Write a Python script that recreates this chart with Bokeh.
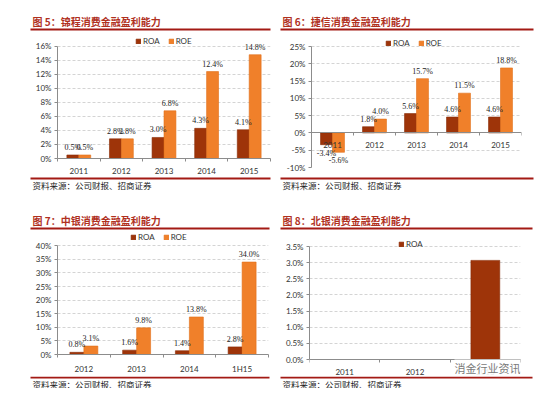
from bokeh.plotting import figure
from bokeh.models import (Range1d, FixedTicker, Legend, LegendItem, ColumnDataSource,
                          LabelSet, Label, CustomJSTickFormatter)
from bokeh.core.properties import value
from bokeh.layouts import column, row
from bokeh.embed import file_html
from bokeh.resources import INLINE

# ---------------- data ----------------
source_text = "资料来源：公司财报、招商证券"

jc_title = "图 5：锦程消费金融盈利能力"
jc_years = ["2011", "2012", "2013", "2014", "2015"]
jc_roa = [0.5, 2.8, 3.0, 4.3, 4.1]
jc_roe = [0.5, 2.8, 6.8, 12.4, 14.8]
jc_ticks = [0, 2, 4, 6, 8, 10, 12, 14, 16]

jx_title = "图 6：捷信消费金融盈利能力"
jx_years = ["2011", "2012", "2013", "2014", "2015"]
jx_roa = [-3.4, 1.8, 5.6, 4.6, 4.6]
jx_roe = [-5.6, 4.0, 15.7, 11.5, 18.8]
jx_ticks = [-10, -5, 0, 5, 10, 15, 20, 25]

zy_title = "图 7：中银消费金融盈利能力"
zy_years = ["2012", "2013", "2014", "1H15"]
zy_roa = [0.8, 1.6, 1.4, 2.8]
zy_roe = [3.1, 9.8, 13.8, 34.0]
zy_ticks = [0, 5, 10, 15, 20, 25, 30, 35, 40]

by_title = "图 8：北银消费金融盈利能力"
by_years = ["2011", "2012", "2013"]
by_roa = [None, None, 3.07]
by_ticks = [0.0, 0.5, 1.0, 1.5, 2.0, 2.5, 3.0, 3.5]

watermark = "消金行业资讯"

# ---------------- style ----------------
ROA_COLOR, ROA_EDGE = "#9e3409", "#8a2c06"
ROE_COLOR, ROE_EDGE = "#f0802a", "#e06e1a"
TITLE_COLOR = "#b0301e"
RULE_COLOR = "#a31a14"
AXIS_COLOR = "#8c8c8c"
TEXT_COLOR = "#333333"
CJK = "Noto Sans CJK SC"
LATIN = "Lato"
TOTAL_W = 546


def blank(w, h):
    f = figure(width=w, height=h, x_range=Range1d(0, w), y_range=Range1d(h, 0),
               x_axis_location=None, y_axis_location=None, output_backend="svg",
               toolbar_location=None, min_border=0, outline_line_color=None,
               frame_align=False)
    f.grid.visible = False
    return f


def strip(h, texts, rules, size, bold, color):
    """texts: list of (text, x, y); rules: list of (x0, x1, y) - strip-local pixels."""
    f = blank(TOTAL_W, h)
    for (x0, x1, y) in rules:
        f.segment(x0=[x0], y0=[y], x1=[x1], y1=[y], line_color=RULE_COLOR, line_width=2)
    f.text(x=[t[1] for t in texts], y=[t[2] for t in texts], text=[t[0] for t in texts],
           text_baseline="middle", text_align="left", text_font=value(CJK),
           text_font_size=value(size), text_font_style="bold" if bold else "normal",
           text_color=color)
    return f


def chart(cats, series, ticks, dec, col_x, col_w, top, h, fl, fr, ft, fb, yt, yb, bw,
          leg_x, leg_b, labels=True, axis_loc=None):
    """col_x/top: page position of this figure; fl/fr/ft/fb: frame edges (page px);
    yt/yb: page px of the first and last tick."""
    n = len(cats)
    xs = list(range(n))
    lo, hi = ticks[0], ticks[-1]
    per_px = (hi - lo) / (yb - yt)
    y0 = lo - (fb - yb) * per_px
    y1 = hi + (yt - ft) * per_px
    p = figure(width=col_w, height=h, x_range=Range1d(-0.5, n - 0.5),
               y_range=Range1d(y0, y1), output_backend="svg",
               toolbar_location=None, min_border_left=fl - col_x,
               min_border_right=col_x + col_w - fr, min_border_top=ft - top,
               min_border_bottom=top + h - fb, outline_line_color=None,
               frame_align=False)
    items = []
    k = len(series)
    for j, (name, vals, col, edge) in enumerate(series):
        off = (j - (k - 1) / 2) * bw
        keep = [i for i in xs if vals[i] is not None]
        src = ColumnDataSource(dict(x=[i + off for i in keep], top=[vals[i] for i in keep]))
        r = p.vbar(x="x", top="top", bottom=0, width=bw, source=src,
                   fill_color=col, line_color=edge, line_width=0.6)
        items.append(LegendItem(label=name, renderers=[r]))
        if labels:
            pos = [i for i in keep if vals[i] >= 0]
            neg = [i for i in keep if vals[i] < 0]
            for group, base, yo in ((pos, "bottom", 3), (neg, "top", -4)):
                if not group:
                    continue
                ls = ColumnDataSource(dict(x=[i + off for i in group], y=[vals[i] for i in group],
                                           t=[f"{vals[i]:.1f}%" for i in group]))
                p.add_layout(LabelSet(x="x", y="y", text="t", source=ls, y_offset=yo,
                                      text_align="center", text_baseline=base,
                                      text_font=LATIN, text_font_size="8px",
                                      text_color="#222222"))
    leg = Legend(items=items, orientation="horizontal",
                 location=(leg_x - fl, fb - leg_b),
                 margin=0, padding=0, spacing=8, label_standoff=2, glyph_width=6,
                 glyph_height=6, label_height=8, label_width=10, label_text_font_size="8px",
                 label_text_font=LATIN, label_text_color=TEXT_COLOR, border_line_color=None,
                 background_fill_alpha=0)
    p.add_layout(leg)

    xa = p.xaxis[0]
    xa.ticker = FixedTicker(ticks=xs, minor_ticks=[i - 0.5 for i in range(n + 1)])
    xa.major_label_overrides = {i: c for i, c in enumerate(cats)}
    xa.major_tick_line_color = None
    xa.minor_tick_line_color = AXIS_COLOR
    xa.minor_tick_in = 0
    xa.minor_tick_out = 3
    xa.axis_line_color = AXIS_COLOR
    xa.major_label_standoff = 3
    xa.major_label_text_font = LATIN
    xa.major_label_text_font_size = "8px"
    xa.major_label_text_color = TEXT_COLOR
    if axis_loc is not None:
        xa.fixed_location = axis_loc

    ya = p.yaxis[0]
    ya.ticker = FixedTicker(ticks=ticks)
    ya.bounds = (lo, hi)
    ya.formatter = CustomJSTickFormatter(code="return tick.toFixed(%d) + '%%';" % dec)
    ya.major_tick_in = 0
    ya.major_tick_out = 3
    ya.major_tick_line_color = AXIS_COLOR
    ya.minor_tick_line_color = None
    ya.axis_line_color = AXIS_COLOR
    ya.major_label_standoff = 3
    ya.major_label_text_font = LATIN
    ya.major_label_text_font_size = "8px"
    ya.major_label_text_color = TEXT_COLOR

    p.xgrid.visible = False
    p.ygrid.grid_line_color = "#d4d4d4"
    p.ygrid.grid_line_dash = "3 2"
    return p


WL, WR = 277, 269
XL, XR = 0, 277

# ---- top row (page y 0..198) ----
hdr_top = strip(34, [(jc_title, 32, 21), (jx_title, 282, 21)],
                [(30, 270, 29), (280, 533, 29)], "10px", True, TITLE_COLOR)
c1 = chart(jc_years, [("ROA", jc_roa, ROA_COLOR, ROA_EDGE), ("ROE", jc_roe, ROE_COLOR, ROE_EDGE)],
           jc_ticks, 0, XL, WL, 34, 142, 57, 270, 35, 160, 46, 160, 0.28, 135, 48)
c2 = chart(jx_years, [("ROA", jx_roa, ROA_COLOR, ROA_EDGE), ("ROE", jx_roe, ROE_COLOR, ROE_EDGE)],
           jx_ticks, 0, XR, WR, 34, 142, 311, 521, 35, 167, 46, 167, 0.285, 385, 48, axis_loc=0)
ftr_top = strip(22, [(source_text, 32, 8), (source_text, 282, 8)],
                [(30, 270, 2), (280, 533, 2)], "8.5px", False, "#222222")

# ---- bottom row (page y 198..388) ----
hdr_bot = strip(34, [(zy_title, 32, 22), (by_title, 282, 22)],
                [(30, 269, 30), (280, 532, 30)], "10px", True, TITLE_COLOR)
c3 = chart(zy_years, [("ROA", zy_roa, ROA_COLOR, ROA_EDGE), ("ROE", zy_roe, ROE_COLOR, ROE_EDGE)],
           zy_ticks, 0, XL, WL, 232, 144, 57, 268, 232, 361, 246, 361, 0.265, 130, 249)
c4 = chart(by_years, [("ROA", by_roa, ROA_COLOR, ROA_EDGE)],
           by_ticks, 1, XR, WR, 232, 144, 309, 520, 232, 376, 246, 359, 0.41, 398, 249,
           labels=False, axis_loc=0)
c4.add_layout(Label(x=454 - 309, y=376 - 367, x_units="screen", y_units="screen", text=watermark,
                    text_baseline="middle", text_align="left", text_font=CJK,
                    text_font_size="11px", text_color="#7a7a7a",
                    background_fill_color="white", background_fill_alpha=0.9))
ftr_bot = strip(12, [(source_text, 32, 7), (source_text, 282, 7)],
                [(30, 269, 1), (280, 532, 1)], "8.5px", False, "#222222")

layout = column(hdr_top, row(c1, c2), ftr_top, hdr_bot, row(c3, c4), ftr_bot)

open("out.html", "w").write(file_html(layout, INLINE))
